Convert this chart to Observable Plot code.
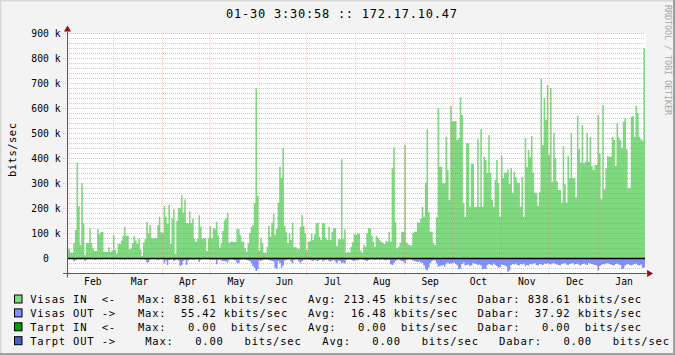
<!DOCTYPE html>
<html><head><meta charset="utf-8">
<script src="https://cdn.jsdelivr.net/npm/d3@7"></script>
<script src="https://cdn.jsdelivr.net/npm/@observablehq/plot@0.6"></script>
<style>
html,body{margin:0;padding:0;background:#F3F3F3;}
#wrap{position:relative;width:675px;height:355px;background:#F3F3F3;overflow:hidden;}
#wrap svg{position:absolute;left:0;top:0;}
#wrap text{white-space:pre;}
</style></head><body><div id="wrap"></div>
<script>
// ---- data: daily values in kbits/sec (Jan 31 .. Jan 30) ----
const inJan31 = [41];
const inFeb = [35,21,21,59,112,381,208,52,299,139,12,60,60,117,60,39,28,28,116,95,104,104,24,24,24,43,24,30];
const inMar = [91,32,16,56,56,70,89,125,89,89,35,38,59,89,70,56,77,35,8,61,75,144,99,132,79,79,79,79,132,165,103];
const inApr = [99,209,165,136,213,56,159,195,16,149,199,199,252,181,235,139,139,187,139,157,77,65,77,171,125,77,79,79,28,79];
const inMay = [128,79,120,115,145,90,40,59,108,150,159,181,61,65,65,64,64,117,115,91,65,65,39,25,59,100,125,132,219,679,248];
const inJun = [30,81,59,21,21,45,128,85,141,176,93,117,221,365,319,439,128,103,59,99,72,141,43,43,39,36,125,172,128,99];
const inJul = [32,65,68,99,72,95,139,141,85,72,139,139,79,72,125,72,105,119,119,48,75,75,395,75,115,21,25,21,45,63,96];
const inAug = [92,99,96,30,21,52,45,99,119,119,90,65,45,88,80,72,65,61,56,69,65,105,65,359,443,143,39,45,61,105,105];
const inSep = [452,61,55,51,51,99,105,105,143,141,157,205,165,301,515,185,105,105,59,52,163,599,365,365,299,299,485,352,232,609];
const inOct = [545,548,548,472,479,643,572,219,165,459,459,205,376,376,205,205,475,205,516,205,405,392,339,492,339,232,205,312,392,299,165];
const inNov = [410,320,341,341,355,296,359,261,345,323,301,301,205,323,165,479,363,432,403,488,341,261,261,209,263,717,452,639,552,692];
const inDec = [412,679,305,501,400,305,272,272,221,448,296,221,408,319,499,319,319,243,568,435,381,532,379,385,499,385,483,368,352,372,372];
const inJan = [572,419,235,612,275,359,408,405,405,485,472,368,539,483,472,439,545,559,435,279,279,565,568,485,609,579,485,475,469,838.61];

const outJan31 = [4];
const outFeb = [3,3,6,13,8,5,4,6,4,3,12,6,4,5,3,4,8,5,3,4,6,4,3,3,5,3,4,6];
const outMar = [5,3,4,3,6,4,5,8,4,3,6,4,3,5,4,3,4,6,3,5,8,19,16,6,4,5,4,6,8,5,4];
const outApr = [6,21,10,28,8,6,5,12,8,6,10,32,28,12,8,28,10,6,5,8,6,4,6,16,8,5,4,6,5,4];
const outMay = [8,6,8,6,25,8,6,10,12,12,14,18,8,6,6,8,10,21,20,8,6,5,6,8,10,12,20,32,40,52,45];
const outJun = [10,12,8,6,5,6,8,10,12,14,40,43,12,20,39,30,10,8,6,5,14,21,8,5,6,14,21,12,8,6];
const outJul = [5,6,8,10,12,8,10,12,8,6,12,10,8,6,12,14,10,8,14,21,10,12,21,18,22,8,6,5,8,10,12];
const outAug = [8,10,6,5,6,8,10,12,8,6,5,6,8,6,5,8,6,5,8,10,6,8,25,28,20,12,8,6,10,12,14];
const outSep = [21,8,6,5,8,10,12,14,16,14,18,20,30,45,50,38,20,12,8,10,21,35,33,30,28,35,22,18,24,21];
const outOct = [21,18,24,30,45,42,24,18,30,28,26,32,30,20,22,24,28,26,30,45,42,44,28,24,26,30,22,28,32,39,36];
const outNov = [26,28,30,34,55.42,50,28,24,26,22,28,30,24,26,22,32,28,30,24,26,22,20,28,30,24,26,28,22,24,20];
const outDec = [24,26,22,20,24,26,28,30,24,22,20,26,28,24,22,20,26,24,22,28,30,24,22,26,28,20,22,24,26,28,30];
const outJan = [50,32,28,24,26,22,20,24,26,28,30,24,22,26,28,44,42,30,26,24,28,30,26,24,22,28,30,26,40,37.92];

const yTicks = [0,100,200,300,400,500,600,700,800,900];
const monthLabels = ["Feb","Mar","Apr","May","Jun","Jul","Aug","Sep","Oct","Nov","Dec","Jan"];

const titleText = "01-30 3:30:58 :: 172.17.10.47";
const yLabel = "bits/sec";
const legendNames = ["Visas IN  <-","Visas OUT ->","Tarpt IN  <-","Tarpt OUT ->"];
const legendMax = ["838.61","55.42","0.00","0.00"];
const legendAvg = ["213.45","16.48","0.00","0.00"];
const legendCur = ["838.61","37.92","0.00","0.00"];
const legendPrefix = ["k","k","",""];

// ---- build ----
const FONT = "'DejaVu Sans Mono', monospace";
const IN_COLOR = "#80D880", OUT_COLOR = "#8090FF", TIN_COLOR = "#00A000", TOUT_COLOR = "#4A62C4";
const swatchColors = [IN_COLOR, OUT_COLOR, TIN_COLOR, TOUT_COLOR];
const start = new Date(Date.UTC(2010,0,31)), end = new Date(Date.UTC(2011,0,31));
const DAY = 864e5;
const visasIn = [].concat(inJan31,inFeb,inMar,inApr,inMay,inJun,inJul,inAug,inSep,inOct,inNov,inDec,inJan);
const visasOut = [].concat(outJan31,outFeb,outMar,outApr,outMay,outJun,outJul,outAug,outSep,outOct,outNov,outDec,outJan);
const days = d3.utcDay.range(start, end);
const series = days.map((date,i) => ({date, vin: visasIn[i], vout: visasOut[i]}));
series.push({date: end, vin: visasIn[visasIn.length-1], vout: visasOut[visasOut.length-1]});
const monthStarts = d3.utcMonth.range(new Date(Date.UTC(2010,1,1)), end);
const monthMids = monthStarts.map((m,i) => ({date: new Date(+m + (d3.utcMonth.offset(m,1) - m)/2 + DAY), label: monthLabels[i]}));
const yMinor = d3.range(-40, 901, 20).filter(v => v % 100 !== 0);
const yMajor = yTicks.filter(v => v > 0);
const fmtY = d => `${d} k`;
const GRID_RED = "#E06060";

const chart = Plot.plot({
  width: 675, height: 290,
  marginLeft: 67, marginRight: 30, marginTop: 33, marginBottom: 17,
  style: {background: "transparent", fontFamily: FONT, color: "black", overflow: "visible"},
  x: {type: "utc", domain: [start, end]},
  y: {domain: [-60, 900]},
  marks: [
    Plot.frame({fill: "white", stroke: "none"}),
    Plot.areaY(series, {x: "date", y1: 0, y2: "vin", curve: "step-after", fill: IN_COLOR}),
    Plot.areaY(series, {x: "date", y1: 0, y2: d => -d.vout, curve: "step-after", fill: OUT_COLOR}),
    Plot.ruleY(yMinor, {stroke: "#808080", strokeOpacity: 0.4, strokeDasharray: "1,1"}),
    Plot.ruleY(yMajor, {x1: () => new Date(+start - 2.5*DAY), x2: () => end, stroke: GRID_RED, strokeOpacity: 0.4, strokeDasharray: "1,1"}),
    Plot.ruleX(monthStarts, {y1: -68, y2: 900, stroke: GRID_RED, strokeOpacity: 0.3, strokeDasharray: "1,1"}),
    Plot.ruleY([0], {stroke: "black", strokeWidth: 1.5}),
    Plot.ruleY([-60], {x1: () => new Date(+start - 2.5*DAY), x2: () => new Date(+end + 1*DAY), stroke: "#5a5a5a"}),
    Plot.ruleX([start], {y1: -78, y2: 905, stroke: "#5a5a5a"}),
    Plot.dot([{x: start, y: 916}], {x: "x", y: "y", symbol: "triangle", r: 2.6, fill: "#8B1010", stroke: "none"}),
    Plot.dot([{x: new Date(+end + 2.3*DAY), y: -60}], {x: "x", y: "y", symbol: "triangle", r: 2.6, rotate: 90, fill: "#8B1010", stroke: "none"}),
    Plot.axisY(yMajor, {tickSize: 0, tickPadding: 7, tickFormat: fmtY, fontSize: 9.7, fontFamily: FONT, fill: "black", label: null}),
    Plot.axisY([0], {tickSize: 0, tickPadding: 7 + 2*5.84, tickFormat: d => `${d}`, fontSize: 9.7, fontFamily: FONT, fill: "black", label: null}),
    Plot.axisX(monthMids.map(d => d.date), {tickSize: 0, tickPadding: 5, tickFormat: (d,i) => monthMids[i].label, fontSize: 9.7, fontFamily: FONT, fill: "black", label: null})
  ]
});
document.getElementById("wrap").appendChild(chart);

// ---- overlay: title, y label, legend, border ----
const ov = d3.select("#wrap").append("svg").attr("width", 675).attr("height", 355)
  .style("font-family", "DejaVu Sans Mono, monospace");
ov.append("rect").attr("x",0).attr("y",0).attr("width",675).attr("height",1.5).attr("fill","#D8D8D8");
ov.append("rect").attr("x",0).attr("y",0).attr("width",1.5).attr("height",355).attr("fill","#D8D8D8");
ov.append("rect").attr("x",673).attr("y",0).attr("width",2).attr("height",355).attr("fill","#A0A0A0");
ov.append("rect").attr("x",0).attr("y",353).attr("width",675).attr("height",2).attr("fill","#A0A0A0");

ov.append("text").attr("x", 226).attr("y", 18.3).attr("font-size", 12)
  .attr("textLength", titleText.length*8 - 1).attr("lengthAdjust","spacing").attr("fill","black").text(titleText);

ov.append("text").attr("transform", "translate(15.5,150) rotate(-90)").attr("text-anchor","middle")
  .attr("font-size", 10.5).attr("textLength", 54).attr("lengthAdjust","spacing").attr("fill","black").text(yLabel);

ov.append("text").attr("transform", "translate(665,5) rotate(90)").attr("font-size", 8.5)
  .attr("textLength", 110).attr("lengthAdjust","spacing").attr("fill","#A8A8A8").text("RRDTOOL / TOBI OETIKER");

const CW = 7.15;
const tok = (g, x, y, s, anchor) => g.append("text").attr("x", x).attr("y", y).attr("font-size", 10.5)
  .attr("xml:space", "preserve").style("white-space", "pre")
  .attr("text-anchor", anchor || "start").attr("textLength", s.length*CW - 0.9).attr("lengthAdjust","spacing")
  .attr("fill","black").text(s);
legendNames.forEach((name, r) => {
  const y = 303.3 + r*13.9;
  const sh = r === 3 ? CW : 0;
  const g = ov.append("g");
  g.append("rect").attr("x", 14.5).attr("y", y - 8.3).attr("width", 7.5).attr("height", 8)
    .attr("fill", swatchColors[r]).attr("stroke", "black").attr("stroke-width", 1);
  tok(g, 30.2, y, name);
  const groups = [[138, legendMax[r]], [308, legendAvg[r]], [477.6, legendCur[r]]];
  groups.forEach(([gx, val], k) => {
    const off = sh*(k+1);
    const lab = k === 2 ? "Dabar:" : (k === 0 ? "Max:" : "Avg:");
    tok(g, gx + off, y, lab);
    const numStart = gx + (k === 2 ? 7 : 5)*CW + off;
    tok(g, numStart + 6*CW - 0.9, y, val, "end");
    const unitX = numStart + 7*CW + (legendPrefix[r] ? 0 : CW) + (r === 3 ? CW*0.9 : 0);
    tok(g, unitX, y, legendPrefix[r] + "bits/sec");
  });
});
</script></body></html>
